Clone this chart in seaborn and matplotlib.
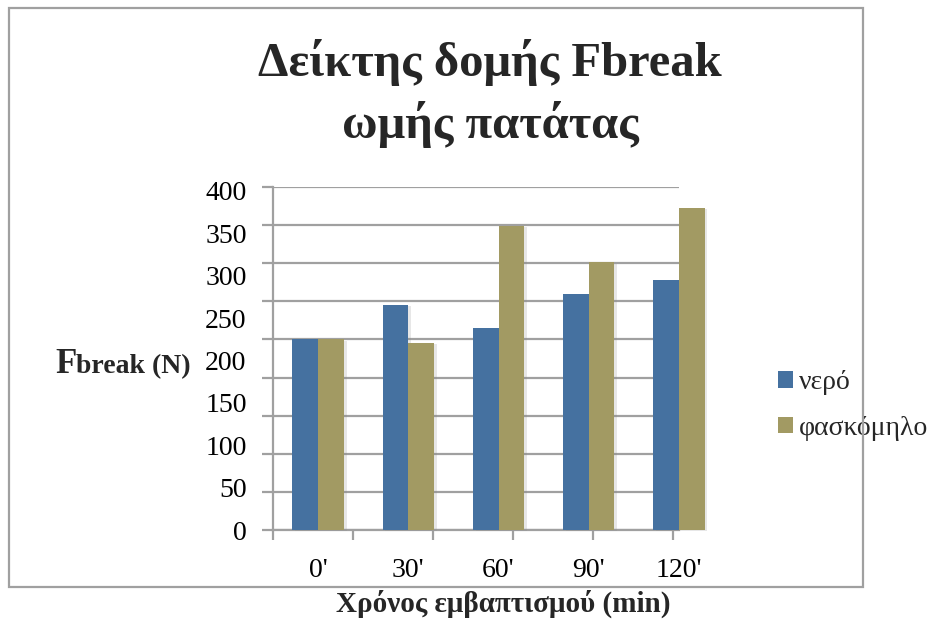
import numpy as np
import pandas as pd
import seaborn as sns
import matplotlib.pyplot as plt
from matplotlib.patches import Rectangle
from matplotlib import patheffects as pe

# Data
times = ["0'", "30'", "60'", "90'", "120'"]
series_names = ["νερό", "φασκόμηλο"]
water = [225, 266, 238, 279, 295]
sage = [225, 221, 359, 316, 380]
ytick_values = [0, 50, 100, 150, 200, 250, 300, 350, 400]

colors = ["#4571A0", "#A29A63"]
grid_color = "#A0A0A0"

sns.set_theme(style="white")
plt.rcParams["font.family"] = ["Liberation Serif", "DejaVu Serif"]

df = pd.DataFrame({
    "time": times * 2,
    "series": [series_names[0]] * len(times) + [series_names[1]] * len(times),
    "F": water + sage,
})

W, H = 934, 620
fig = plt.figure(figsize=(W / 100, H / 100), dpi=100)
ax = fig.add_axes([273 / W, (H - 530) / H, 406 / W, 343 / H])


def px_x(p):
    return p / W


def px_y(p):
    return (H - p) / H


sns.barplot(data=df, x="time", y="F", hue="series", order=times,
            hue_order=series_names, palette=colors, width=0.57,
            saturation=1, gap=0, ax=ax, linewidth=0, err_kws={"linewidth": 0})

shadow = [pe.SimplePatchShadow(offset=(2, -1), shadow_rgbFace="#888888", alpha=0.2),
          pe.Normal()]
for patch in ax.patches:
    patch.set_clip_on(False)
    patch.set_path_effects(shadow)
    patch.set_zorder(3)

ax.set_xlim(-0.5, 3.937)
ax.set_ylim(0, 404.7)

# gridlines / tick marks on the frame, value labels on their own ticks
ax.yaxis.remove_overlapping_locs = False
ax.xaxis.remove_overlapping_locs = False
grid_pos = np.linspace(0, 404.7, 10)
ax.set_yticks(grid_pos)
ax.set_yticklabels([])
ax.set_yticks(ytick_values, minor=True)
ax.set_yticklabels([str(v) for v in ytick_values], minor=True)
ax.yaxis.grid(True, which="major", color=grid_color, linewidth=1.6)
ax.set_axisbelow(True)

ax.set_xticks(np.linspace(-0.5, 3.937, 6))
ax.set_xticklabels([])
ax.set_xticks(range(len(times)), minor=True)
ax.set_xticklabels(times, minor=True)

ax.tick_params(axis="y", which="major", length=8, width=1.6, color=grid_color, direction="out", left=True)
ax.tick_params(axis="y", which="minor", length=0, pad=19, labelsize=20, labelcolor="black")
ax.tick_params(axis="x", which="major", length=7, width=1.6, color=grid_color, direction="out", bottom=True)
ax.tick_params(axis="x", which="minor", length=0, pad=20, labelsize=20, labelcolor="black")

for s in ["top", "right"]:
    ax.spines[s].set_visible(False)
for s in ["left", "bottom"]:
    ax.spines[s].set_color(grid_color)
    ax.spines[s].set_linewidth(1.6)

ax.set_xlabel("")
ax.set_ylabel("")

sns.move_legend(ax, loc="center left", bbox_to_anchor=(px_x(778), px_y(405.5)),
                bbox_transform=fig.transFigure, frameon=False, title=None,
                fontsize=20, handlelength=0.55, handleheight=0.55,
                handletextpad=0.2, labelspacing=0.75, borderpad=0, borderaxespad=0)

# Title
fig.text(px_x(490), px_y(62), "Δείκτης δομής Fbreak", ha="center", va="center",
         fontsize=35, fontweight="bold")
fig.text(px_x(490), px_y(125), "ωμής πατάτας", ha="center", va="center",
         fontsize=35, fontweight="bold")

# Axis titles
fig.text(px_x(55), px_y(373), "F", ha="left", va="baseline", fontsize=25, fontweight="bold")
fig.text(px_x(76), px_y(373), "break (N)", ha="left", va="baseline", fontsize=20, fontweight="bold")
fig.text(px_x(503), px_y(604), "Χρόνος εμβαπτισμού (min)", ha="center", va="center",
         fontsize=21, fontweight="bold")

# Chart frame
fig.patches.append(Rectangle((px_x(9), px_y(587)), (863 - 9) / W, (587 - 8) / H,
                             transform=fig.transFigure, fill=False,
                             edgecolor=grid_color, linewidth=1.6, zorder=10))

fig.savefig("out.png", dpi=100)
